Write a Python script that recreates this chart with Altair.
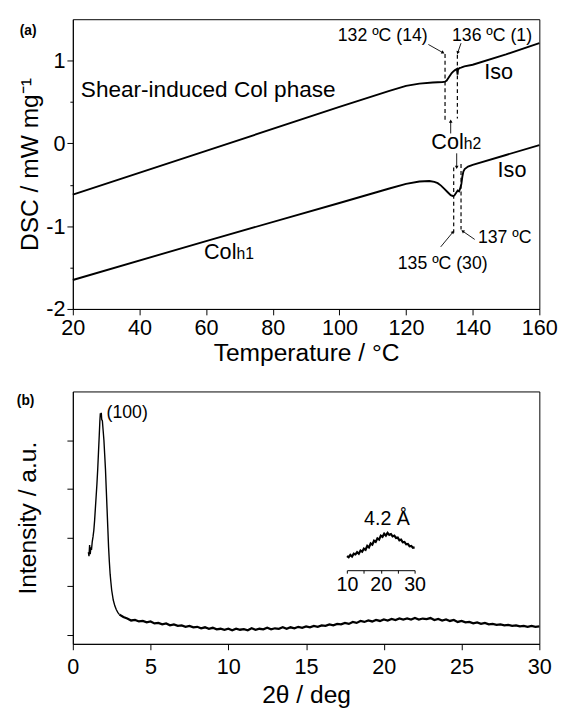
import math
import altair as alt
import pandas as pd

FONT = "Liberation Sans"

# ---------------- (a) DSC ----------------
t_shear = [20, 60, 100, 115, 120, 124, 128, 131, 131.7, 132.2, 132.7, 133.2, 133.7, 134.2, 134.7,
           135.1, 135.3, 135.45, 135.6, 136.0, 136.5, 137.5, 140, 150, 160]
dsc_shear = [-0.62, -0.09, 0.44, 0.635, 0.695, 0.722, 0.735, 0.742, 0.745, 0.76, 0.79, 0.82,
             0.85, 0.87, 0.885, 0.895, 0.90, 0.83, 0.89, 0.91, 0.915, 0.93, 0.95, 1.075, 1.21]
t_col = [20, 60, 100, 115, 120, 124, 127, 128.5, 129.5, 130.5, 131.5, 132.5, 133.4, 134.0, 134.5,
         135.0, 135.5, 135.9, 136.2, 136.6, 136.9, 137.2, 137.6, 138.6, 140, 150, 160]
dsc_col = [-1.65, -1.18, -0.72, -0.545, -0.49, -0.46, -0.455, -0.465, -0.48, -0.51, -0.55, -0.59,
           -0.625, -0.635, -0.63, -0.60, -0.57, -0.58, -0.55, -0.49, -0.40, -0.34, -0.31, -0.28,
           -0.26, -0.14, -0.02]

dash_t = [131.7, 135.4, 134.3, 136.5]
dash_top = [1.08, 1.07, -0.29, -0.25]
dash_bot = [0.28, 0.30, -1.08, -1.04]

arrow_t0 = [126.7, 136.5, 133.4, 135.2, 130.4, 140.6]
arrow_d0 = [1.195, 1.21, 0.12, -0.12, -1.25, -1.16]
arrow_t1 = [131.1, 135.5, 133.4, 135.2, 134.1, 137.0]
arrow_d1 = [1.095, 1.095, 0.27, -0.29, -1.07, -1.06]

center_text = ["132 ºC (14)", "136 ºC (1)", "135 ºC (30)", "137 ºC", "Iso", "Iso"]
center_x = [113.0, 145.8, 131.0, 149.6, 147.8, 151.8]
center_y = [1.234, 1.234, -1.515, -1.20, 0.78, -0.40]
center_size = [18, 18, 18, 18, 22, 22]

left_text = ["Shear-induced Col phase", "h2", "h1"]
left_x = [22.4, 137.3, 69.1]
left_y = [0.56, -0.07, -1.396]
left_size = [23, 16, 16]

right_text = ["Col", "Col"]
right_x = [137.3, 69.1]
right_y = [-0.07, -1.396]
right_size = [22, 22]

# ---------------- (b) XRD ----------------
xrd_peak_x = [1.00, 1.04, 1.08, 1.12, 1.16, 1.20, 1.25, 1.30, 1.35, 1.40, 1.45, 1.50, 1.55, 1.60,
              1.65, 1.70, 1.74, 1.77, 1.80, 1.83, 1.86, 1.90, 1.95, 2.00, 2.05, 2.10, 2.15, 2.20,
              2.25, 2.30, 2.35, 2.40, 2.45, 2.50, 2.60, 2.70, 2.80, 2.90, 3.00]
xrd_peak_y = [1.70, 1.62, 1.85, 1.66, 1.80, 1.75, 1.92, 2.02, 2.15, 2.35, 2.60, 2.85, 3.10, 3.40,
              3.75, 4.10, 4.40, 4.55, 4.50, 4.56, 4.42, 4.40, 4.20, 4.00, 3.70, 3.40, 3.00, 2.60,
              2.20, 1.80, 1.50, 1.25, 1.08, 0.92, 0.72, 0.60, 0.52, 0.46, 0.42]
# noisy baseline, read every 0.25 deg from 3.0 to 30
xrd_base_y = [0.42, 0.37, 0.34, 0.30, 0.31, 0.28, 0.29, 0.26, 0.28, 0.24, 0.25, 0.22,
              0.24, 0.20, 0.22, 0.19, 0.20, 0.17, 0.19, 0.16, 0.17, 0.14, 0.16, 0.13,
              0.15, 0.12, 0.13, 0.11, 0.13, 0.10, 0.13, 0.11, 0.12, 0.10, 0.14, 0.11,
              0.13, 0.12, 0.15, 0.12, 0.14, 0.13, 0.16, 0.13, 0.16, 0.14, 0.17, 0.15,
              0.18, 0.16, 0.19, 0.17, 0.20, 0.19, 0.22, 0.20, 0.23, 0.22, 0.25, 0.23,
              0.27, 0.25, 0.29, 0.27, 0.30, 0.28, 0.31, 0.29, 0.32, 0.30, 0.33, 0.31,
              0.34, 0.32, 0.34, 0.32, 0.35, 0.32, 0.34, 0.33, 0.35, 0.31, 0.33, 0.30,
              0.32, 0.29, 0.31, 0.27, 0.29, 0.26, 0.27, 0.24, 0.26, 0.23, 0.25, 0.22,
              0.23, 0.21, 0.22, 0.20, 0.21, 0.19, 0.20, 0.18, 0.19, 0.17, 0.19, 0.17, 0.18]
xrd_base_x = [3.0 + 0.25 * i for i in range(len(xrd_base_y))]

inset_y = [0.36, 0.33, 0.39, 0.35, 0.42, 0.40, 0.46, 0.42, 0.50, 0.47, 0.55, 0.52, 0.62, 0.58,
           0.68, 0.65, 0.75, 0.72, 0.81, 0.78, 0.88, 0.85, 0.93, 0.88, 0.95, 0.90, 0.92, 0.86,
           0.88, 0.82, 0.83, 0.76, 0.78, 0.71, 0.72, 0.66, 0.67, 0.61, 0.62, 0.57, 0.58]
inset_x = [10 + 0.5 * i for i in range(len(inset_y))]
inset_ticks = [10, 15, 20, 25, 30]
inset_span = [17.63, 21.98]  # where the inset sits on the main 2-theta axis

# ---------------- layout ----------------
W = 475
HA = 295
HB = 257
XA = [20, 160]
YA = [-2, 1.5]
XB = [0, 30]
YB = [-0.18, 5.0]

x_a = alt.X("x:Q", scale=alt.Scale(domain=XA, nice=False, zero=False),
            axis=alt.Axis(values=list(range(20, 161, 10)), title="Temperature / °C",
                          labelExpr="datum.value % 20 === 0 ? datum.label : ''",
                          tickSize={"condition": {"test": "datum.value % 20 === 0", "value": 6}, "value": 3},
                          labelPadding=3, titlePadding=2, labelOverlap=False))
y_a = alt.Y("y:Q", scale=alt.Scale(domain=YA, nice=False, zero=False),
            axis=alt.Axis(values=[-2, -1.5, -1, -0.5, 0, 0.5, 1], title="DSC / mW mg⁻¹",
                          labelExpr="datum.value % 1 === 0 ? '' + datum.value : ''",
                          tickSize={"condition": {"test": "datum.value % 1 === 0", "value": 6}, "value": 3},
                          labelPadding=2, titlePadding=3, labelOverlap=False))

dsc_df = pd.DataFrame({"x": t_shear + t_col, "y": dsc_shear + dsc_col,
                       "s": ["shear"] * len(t_shear) + ["col"] * len(t_col)})
lines_a = alt.Chart(dsc_df).mark_line(color="black", strokeWidth=1.9).encode(x=x_a, y=y_a, detail="s:N")

dash_df = pd.DataFrame({"x": dash_t, "y": dash_top, "y2": dash_bot})
dashes = alt.Chart(dash_df).mark_rule(color="black", strokeWidth=1.2, strokeDash=[4, 3]).encode(
    x="x:Q", y="y:Q", y2="y2:Q")

arr_df = pd.DataFrame({"x": arrow_t0, "y": arrow_d0, "x2": arrow_t1, "y2": arrow_d1})
arrows = alt.Chart(arr_df).mark_rule(color="black", strokeWidth=0.9).encode(
    x="x:Q", y="y:Q", x2="x2:Q", y2="y2:Q")

px_t = W / (XA[1] - XA[0])
px_d = HA / (YA[1] - YA[0])
angles = []
for t0, d0, t1, d1 in zip(arrow_t0, arrow_d0, arrow_t1, arrow_d1):
    dx = (t1 - t0) * px_t
    dy = -(d1 - d0) * px_d
    angles.append((math.degrees(math.atan2(dx, -dy)) + 360) % 360)
head_df = pd.DataFrame({"x": arrow_t1, "y": arrow_d1, "a": angles})
heads = alt.Chart(head_df).mark_point(shape="triangle-up", filled=True, color="black",
                                      size=14, opacity=1).encode(
    x="x:Q", y="y:Q", angle=alt.Angle("a:Q", scale=None))

ct = alt.Chart(pd.DataFrame({"x": center_x, "y": center_y, "t": center_text, "f": center_size})).mark_text(
    align="center", baseline="alphabetic").encode(x="x:Q", y="y:Q", text="t:N", size=alt.Size("f:Q", scale=None))
lt = alt.Chart(pd.DataFrame({"x": left_x, "y": left_y, "t": left_text, "f": left_size})).mark_text(
    align="left", baseline="alphabetic").encode(x="x:Q", y="y:Q", text="t:N", size=alt.Size("f:Q", scale=None))
rt = alt.Chart(pd.DataFrame({"x": right_x, "y": right_y, "t": right_text, "f": right_size})).mark_text(
    align="right", baseline="alphabetic").encode(x="x:Q", y="y:Q", text="t:N", size=alt.Size("f:Q", scale=None))

tag_a = alt.Chart(pd.DataFrame({"t": ["(a)"]})).mark_text(
    align="left", baseline="middle", fontSize=14, fontWeight="bold").encode(
    x=alt.value(-54), y=alt.value(12), text="t:N")

panel_a = alt.layer(lines_a, dashes, arrows, heads, ct, lt, rt, tag_a).properties(width=W, height=HA)

# ---- panel b ----
x_b = alt.X("x:Q", scale=alt.Scale(domain=XB, nice=False, zero=False),
            axis=alt.Axis(values=[v * 2.5 for v in range(13)], title="2θ / deg",
                          labelExpr="datum.value % 5 === 0 ? datum.label : ''",
                          tickSize={"condition": {"test": "datum.value % 5 === 0", "value": 6}, "value": 3},
                          labelPadding=7, titlePadding=6, labelOverlap=False))
y_b = alt.Y("y:Q", scale=alt.Scale(domain=YB, nice=False, zero=False),
            axis=alt.Axis(values=[0, 1, 2, 3, 4], labels=False, tickSize=6,
                          title="Intensity / a.u.", titlePadding=27))

peak_df = pd.DataFrame({"x": xrd_peak_x, "y": xrd_peak_y})
base_df = pd.DataFrame({"x": xrd_base_x, "y": xrd_base_y})
line_peak = alt.Chart(peak_df).mark_line(color="black", strokeWidth=1.4).encode(x=x_b, y=y_b)
line_base = alt.Chart(base_df).mark_line(color="black", strokeWidth=2.3).encode(x="x:Q", y="y:Q")

txt_b = alt.Chart(pd.DataFrame({"x": [2.17], "y": [4.46], "t": ["(100)"]})).mark_text(
    align="left", baseline="alphabetic", fontSize=18).encode(x="x:Q", y="y:Q", text="t:N")
txt_b2 = alt.Chart(pd.DataFrame({"x": [20.2], "y": [2.26], "t": ["4.2 Å"]})).mark_text(
    align="center", baseline="alphabetic", fontSize=20).encode(x="x:Q", y="y:Q", text="t:N")
tag_b = alt.Chart(pd.DataFrame({"t": ["(b)"]})).mark_text(
    align="left", baseline="middle", fontSize=14, fontWeight="bold").encode(
    x=alt.value(-57), y=alt.value(10), text="t:N")

main_b = alt.layer(line_peak, line_base, txt_b, txt_b2, tag_b)

inset_px = [W * inset_span[0] / XB[1], W * inset_span[1] / XB[1]]
inset_axis_y = 182
inset_df = pd.DataFrame({"xi": inset_x, "yi": inset_y})
inset = alt.Chart(inset_df).mark_line(color="black", strokeWidth=2.2).encode(
    x=alt.X("xi:Q", scale=alt.Scale(domain=[10, 30], range=inset_px, nice=False, zero=False),
            axis=alt.Axis(values=inset_ticks, orient="bottom", offset=-(HB - inset_axis_y),
                          labelExpr="datum.value % 10 === 0 ? datum.label : ''",
                          tickSize=3, labelFontSize=20, labelPadding=2, title=None,
                          labelOverlap=False)),
    y=alt.Y("yi:Q", scale=alt.Scale(domain=[0, 1], range=[inset_axis_y, inset_axis_y - 40], nice=False, zero=False),
            axis=None))

panel_b = alt.layer(main_b, inset).resolve_scale(x="independent", y="independent").properties(width=W, height=HB)

chart = alt.vconcat(panel_a, panel_b, spacing=25).properties(
    padding={"left": 7, "top": 4, "right": 0, "bottom": 0}
).configure_view(stroke="black", strokeWidth=1).configure_axis(
    domainColor="black", tickColor="black", labelColor="black", titleColor="black",
    labelFont=FONT, titleFont=FONT, labelFontSize=22, titleFontSize=25,
    titleFontWeight="normal", grid=False, tickWidth=1, domainWidth=1, labelFlush=False
).configure_text(font=FONT, color="black")

chart.save("out.html", embed_options={"renderer": "svg", "actions": False})
